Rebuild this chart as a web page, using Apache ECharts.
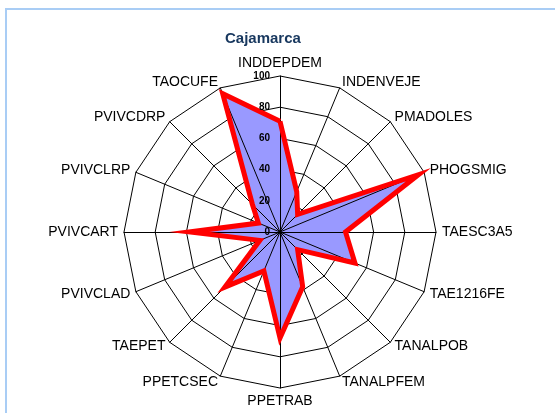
<!DOCTYPE html>
<html>
<head>
<meta charset="utf-8">
<script src="https://cdn.jsdelivr.net/npm/echarts@6/dist/echarts.min.js"></script>
<style>
  html, body { margin: 0; padding: 0; background: #fff; }
  #wrap { position: relative; width: 555px; height: 413px; overflow: hidden; }
  #frame { position: absolute; left: 5px; top: 8px; width: 620px; height: 480px;
           border: 2px solid #A9CDF5; box-sizing: border-box; }
  #chart { position: absolute; left: 0; top: 0; width: 555px; height: 413px; }
</style>
</head>
<body>
<div id="wrap">
  <div id="frame"></div>
  <div id="chart"></div>
</div>
<script>
// Indicators listed clockwise from the top
const indicators = [
  'INDDEPDEM', 'INDENVEJE', 'PMADOLES', 'PHOGSMIG', 'TAESC3A5', 'TAE1216FE',
  'TANALPOB', 'TANALPFEM', 'PPETRAB', 'PPETCSEC', 'TAEPET', 'PVIVCLAD',
  'PVIVCART', 'PVIVCLRP', 'PVIVCDRP', 'TAOCUFE'
];
const values = [71, 28, 16, 96, 42, 52, 16, 38, 68, 27, 50, 14, 58, 15, 25, 96];
const scaleTicks = [0, 20, 40, 60, 80, 100];

// ECharts lays radar axes counter-clockwise, so keep the first one and reverse the rest
const order = [0].concat(indicators.map((_, i) => i).slice(1).reverse());
const scaleMax = scaleTicks[scaleTicks.length - 1];
const radarIndicators = order.map(i => ({ name: indicators[i], min: 0, max: scaleMax }));
const radarValues = order.map(i => values[i]);

const chart = echarts.init(document.getElementById('chart'), null, { renderer: 'canvas' });
const font = 'Liberation Sans, Arial, sans-serif';
const cx = 280, cy = 232, R = 156;

const radarBase = {
  center: [cx, cy],
  radius: R,
  startAngle: 90,
  shape: 'polygon',
  splitNumber: scaleTicks.length - 1,
  indicator: radarIndicators,
  axisLabel: { show: false },
  splitArea: { show: false }
};

const redLine = { color: '#FF0000', width: 5, join: 'miter', miterLimit: 20 };

chart.setOption({
  animation: false,
  title: {
    text: 'Cajamarca',
    left: 220, top: 26,
    textStyle: { color: '#17375E', fontSize: 15, fontWeight: 'bold', fontFamily: font }
  },
  radar: [
    // rings and names, beneath the filled area
    Object.assign({}, radarBase, {
      nameGap: 6,
      axisName: { color: '#000', fontSize: 14, fontFamily: font },
      axisLine: { show: false },
      splitLine: { lineStyle: { color: '#000', width: 1 } },
      z: 1
    }),
    // spokes, drawn over the filled area
    Object.assign({}, radarBase, {
      axisName: { show: false },
      axisLine: { lineStyle: { color: '#000', width: 1 } },
      splitLine: { show: false },
      z: 5
    })
  ],
  // value scale printed along the vertical axis
  grid: { left: cx, top: cy - R, width: 1, height: R, containLabel: false },
  xAxis: { type: 'value', show: false },
  yAxis: {
    type: 'value',
    min: scaleTicks[0], max: scaleMax, interval: 20,
    axisLine: { show: false }, axisTick: { show: false }, splitLine: { show: false },
    axisLabel: { color: '#000', fontSize: 10, fontWeight: 'bold', fontFamily: font, margin: 10 },
    z: 10
  },
  series: [
    {
      // filled area
      type: 'radar',
      radarIndex: 0,
      symbol: 'none',
      z: 2,
      lineStyle: { width: 0, opacity: 0 },
      areaStyle: { color: '#9999FF', opacity: 1 },
      data: [{ value: radarValues, name: 'Cajamarca' }]
    },
    {
      // outline on top
      type: 'radar',
      radarIndex: 0,
      symbol: 'none',
      z: 6,
      lineStyle: redLine,
      data: [{ value: radarValues, name: 'Cajamarca', lineStyle: redLine }]
    }
  ]
});
</script>
</body>
</html>
